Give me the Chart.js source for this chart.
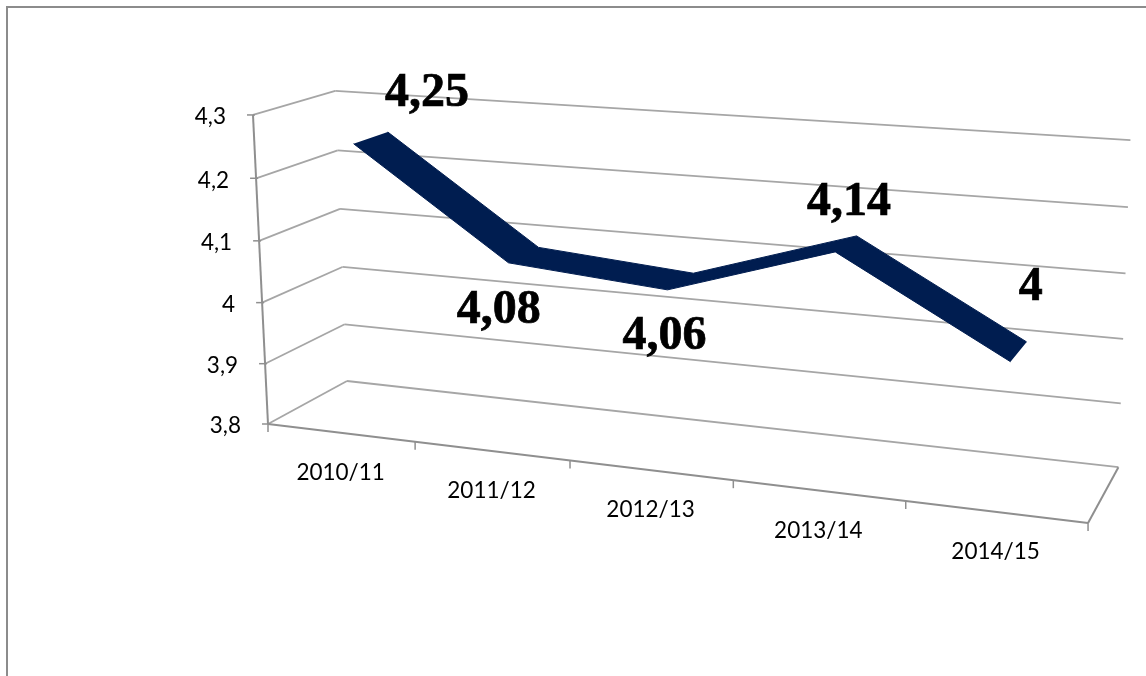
<!DOCTYPE html>
<html lang="en">
<head>
    <meta charset="UTF-8">
    <title>3D line chart</title>
    <script src="https://cdnjs.cloudflare.com/ajax/libs/Chart.js/4.4.1/chart.umd.min.js"></script>
    <style>
        html, body {
            margin: 0;
            background: #fff;
            overflow: hidden;
        }

        .frame {
            position: absolute;
            left: 6px;
            top: 6px;
            width: 1140px;
            height: 670px;
            box-sizing: border-box;
            border-top: 2px solid #8c8c8c;
            border-left: 2px solid #8c8c8c;
        }

        canvas {
            position: absolute;
            left: 0;
            top: 0;
        }
    </style>
</head>
<body>
    <div class="frame"></div>
    <canvas id="chart" width="1146" height="676"></canvas>

    <script>
        const seasons = ['2010/11', '2011/12', '2012/13', '2013/14', '2014/15'];
        const values = [4.25, 4.08, 4.06, 4.14, 4];
        const valueLabels = ['4,25', '4,08', '4,06', '4,14', '4'];
        const tickValues = [3.8, 3.9, 4, 4.1, 4.2, 4.3];
        const tickLabels = ['3,8', '3,9', '4', '4,1', '4,2', '4,3'];

        // Excel style 3D box: homogeneous origin and axis vectors (category, value, depth)
        const BOX = {
            o: [268, 424, 1],
            u: [683.5, 33.4, -0.1255],
            v: [-22.6, -312.5, -0.03],
            d: [102.6, -17.1, 0.068]
        };
        const RIBBON_FRONT = 0.3;
        const RIBBON_BACK = 0.74;
        const LABEL_OFFSETS = [[56, -44], [-25, 56], [-16, 55], [3, -41], [12, -64]];
        const GRID_COLOR = '#a6a6a6';
        const AXIS_COLOR = '#8f8f8f';
        const TICK_FONT = '22.5px Lato';

        function project(u, v, d) {
            const h = [0, 1, 2].map(i => BOX.o[i] + u * BOX.u[i] + v * BOX.v[i] + d * BOX.d[i]);
            return { x: h[0] / h[2], y: h[1] / h[2] };
        }

        // scale pixel -> fraction of the plot area
        function fractions(chart, index, value) {
            const area = chart.chartArea;
            return {
                u: (chart.scales.x.getPixelForValue(index) - area.left) / area.width,
                v: (area.bottom - chart.scales.y.getPixelForValue(value)) / area.height
            };
        }

        function line(ctx, a, b, color, width) {
            ctx.beginPath();
            ctx.moveTo(a.x, a.y);
            ctx.lineTo(b.x, b.y);
            ctx.strokeStyle = color;
            ctx.lineWidth = width;
            ctx.stroke();
        }

        const box3d = {
            id: 'box3d',

            // move the line points into the 3D box
            afterDatasetsUpdate(chart) {
                chart.data.datasets.forEach((ds, n) => {
                    chart.getDatasetMeta(n).data.forEach((pt, i) => {
                        const f = fractions(chart, i, ds.data[i]);
                        const p = project(f.u, f.v, ds.depth);
                        pt.x = p.x;
                        pt.y = p.y;
                    });
                });
            },

            beforeDatasetsDraw(chart) {
                const ctx = chart.ctx;
                const area = chart.chartArea;
                ctx.save();
                ctx.lineJoin = 'round';

                // back wall, left wall and value ticks
                tickValues.forEach((t, i) => {
                    const v = (area.bottom - chart.scales.y.getPixelForValue(t)) / area.height;
                    const front = project(0, v, 0);
                    const corner = project(0, v, 1);
                    line(ctx, front, corner, GRID_COLOR, 1.8);
                    line(ctx, corner, project(1, v, 1), GRID_COLOR, 1.8);
                    line(ctx, { x: front.x - 6, y: front.y }, { x: front.x + 2, y: front.y }, AXIS_COLOR, 1.5);

                    ctx.fillStyle = '#000';
                    ctx.font = TICK_FONT;
                    ctx.textAlign = 'right';
                    ctx.textBaseline = 'middle';
                    ctx.fillText(tickLabels[i], front.x - 27, front.y + 2);
                });

                // floor and value axis
                line(ctx, project(0, 0, 0), project(0, 1, 0), AXIS_COLOR, 2);
                line(ctx, project(0, 0, 0), project(1, 0, 0), AXIS_COLOR, 2);
                line(ctx, project(1, 0, 0), project(1, 0, 1), AXIS_COLOR, 2);

                // category ticks and labels
                for (let i = 0; i <= seasons.length; i++) {
                    const p = project(i / seasons.length, 0, 0);
                    line(ctx, p, { x: p.x, y: p.y + 8 }, AXIS_COLOR, 1.5);
                }
                seasons.forEach((s, i) => {
                    const p = project(fractions(chart, i, tickValues[0]).u, 0, 0);
                    ctx.fillStyle = '#000';
                    ctx.font = TICK_FONT;
                    ctx.textAlign = 'center';
                    ctx.textBaseline = 'middle';
                    ctx.fillText(chart.scales.x.getLabelForValue(i), p.x, p.y + 40);
                });

                // ribbon between the front and back edge datasets
                const front = chart.getDatasetMeta(0).data;
                const back = chart.getDatasetMeta(1).data;
                ctx.fillStyle = chart.data.datasets[0].borderColor;
                ctx.beginPath();
                front.forEach((pt, i) => i ? ctx.lineTo(pt.x, pt.y) : ctx.moveTo(pt.x, pt.y));
                back.slice().reverse().forEach(pt => ctx.lineTo(pt.x, pt.y));
                ctx.closePath();
                ctx.fill();
                ctx.restore();
            },

            afterDatasetsDraw(chart) {
                const ctx = chart.ctx;
                ctx.save();
                ctx.fillStyle = '#000';
                ctx.strokeStyle = '#000';
                ctx.lineWidth = 0.7;
                ctx.font = 'bold 48px "Liberation Serif"';
                ctx.textAlign = 'center';
                ctx.textBaseline = 'middle';
                values.forEach((val, i) => {
                    const f = fractions(chart, i, val);
                    const p = project(f.u, f.v, (RIBBON_FRONT + RIBBON_BACK) / 2);
                    const x = p.x + LABEL_OFFSETS[i][0];
                    const y = p.y + LABEL_OFFSETS[i][1];
                    ctx.fillText(valueLabels[i], x, y);
                    ctx.strokeText(valueLabels[i], x, y);
                });
                ctx.restore();
            }
        };

        const edge = depth => ({
            data: values,
            depth: depth,
            borderColor: '#001d50',
            borderWidth: 1,
            pointRadius: 0,
            tension: 0,
            fill: false,
            clip: false
        });

        new Chart(document.getElementById('chart'), {
            type: 'line',
            data: {
                labels: seasons,
                datasets: [edge(RIBBON_FRONT), edge(RIBBON_BACK)]
            },
            options: {
                responsive: false,
                animation: false,
                events: [],
                layout: { padding: 0 },
                plugins: {
                    legend: { display: false },
                    title: { display: false },
                    tooltip: { enabled: false }
                },
                scales: {
                    x: { type: 'category', offset: true, display: false },
                    y: { type: 'linear', min: 3.8, max: 4.3, display: false }
                }
            },
            plugins: [box3d]
        });
    </script>
</body>
</html>
